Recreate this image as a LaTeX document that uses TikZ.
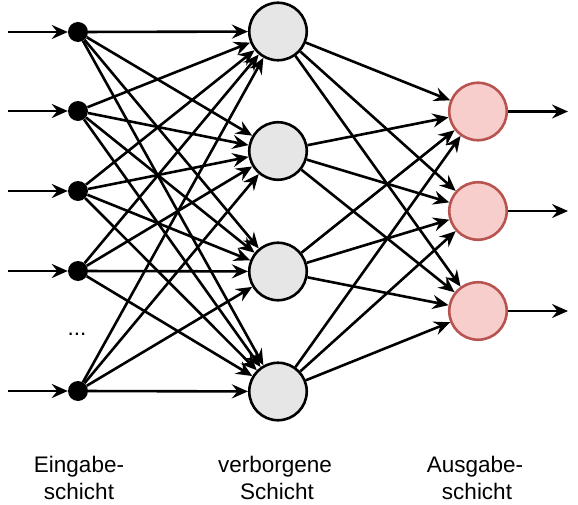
\documentclass[tikz,border=0pt]{standalone}
\usepackage{fontspec}
\setmainfont{Liberation Sans}
\usetikzlibrary{arrows.meta}
\definecolor{hidgray}{HTML}{E6E6E6}
\definecolor{outpink}{HTML}{F8CECC}
\definecolor{outred}{HTML}{B85450}
\begin{document}
\begin{tikzpicture}[x=1pt,y=-1pt,
  inp/.style={circle, fill=black, inner sep=0pt, minimum size=20pt},
  hid/.style={circle, draw=black, fill=hidgray, line width=2.6pt, inner sep=0pt, minimum size=57.5pt},
  outn/.style={circle, draw=outred, fill=outpink, line width=2.6pt, inner sep=0pt, minimum size=57.5pt},
  conn/.style={-{Stealth[length=16pt,width=14pt,inset=5.5pt]}, line width=2.6pt},
  lbl/.style={anchor=base, inner sep=0pt, font=\fontsize{22.5}{27}\selectfont}]
\useasboundingbox (0,0) rectangle (578,505);
% input dots
\foreach \i/\y in {1/32,2/111,3/191,4/271,5/391}{
  \node[inp] (i\i) at (78,\y) {};
  \coordinate (s\i) at (8,\y);
}
% hidden
\foreach \j/\y in {1/31.5,2/151,3/271.5,4/391.5}{
  \node[hid] (h\j) at (278,\y) {};
}
% outputs
\foreach \k/\y in {1/111.5,2/211,3/311}{
  \node[outn] (o\k) at (478,\y) {};
  \coordinate (e\k) at (568,\y);
}
\node[lbl] (dots) at (77,335.5) {...};
% connections
\foreach \i in {1,...,5}{
  \draw[conn] (s\i) -- (i\i);
  \foreach \j in {1,...,4}{
    \draw[conn] (i\i) -- (h\j);
  }
}
\foreach \j in {1,...,4}{
  \foreach \k in {1,2,3}{
    \draw[conn] (h\j) -- (o\k);
  }
}
\foreach \k in {1,2,3}{
  \draw[conn] (o\k) -- (e\k);
}
% labels
\node[lbl] (l1a) at (79,472) {Eingabe-};
\node[lbl] (l1b) at (79,499) {schicht};
\node[lbl] (l2a) at (275,472) {verborgene};
\node[lbl] (l2b) at (277,499) {Schicht};
\node[lbl] (l3a) at (475,472) {Ausgabe-};
\node[lbl] (l3b) at (477,499) {schicht};
\end{tikzpicture}
\end{document}
